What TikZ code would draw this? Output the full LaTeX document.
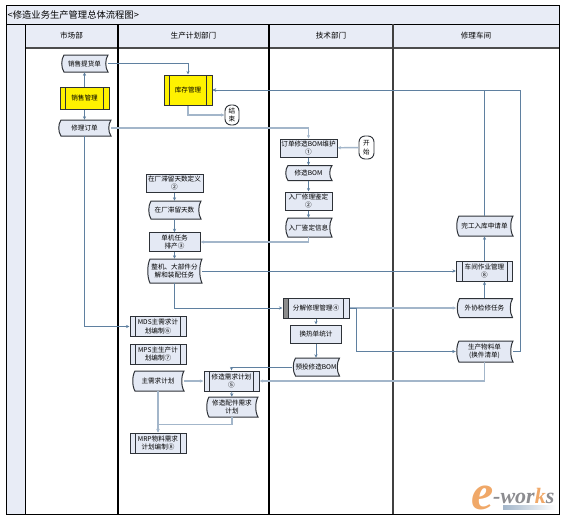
\documentclass[tikz,border=0pt]{standalone}
\usepackage{fontspec}
\setmainfont{Noto Sans CJK SC}
\newfontfamily\logofont{Liberation Serif}
\usetikzlibrary{arrows.meta}
\definecolor{bandfill}{HTML}{E8ECF6}
\definecolor{boxfill}{HTML}{E4E9F4}
\definecolor{boxline}{HTML}{2E3238}
\definecolor{flowthin}{HTML}{5F80A0}
\definecolor{flowpale}{HTML}{A3B6CA}
\definecolor{logoorange}{HTML}{F0A868}
\definecolor{logogray}{HTML}{8C8C90}
% the two bars of a process box
\newcommand{\procbars}{%
  \draw[boxline, line width=0.8pt] ([xshift=5.5pt]path picture bounding box.north west) -- ([xshift=5.5pt]path picture bounding box.south west);
  \draw[boxline, line width=0.8pt] ([xshift=-5.5pt]path picture bounding box.north east) -- ([xshift=-5.5pt]path picture bounding box.south east);}
\tikzset{
  boxtext/.style={font=\fontsize{6.6}{8.5}\selectfont, text=black, align=center, inner sep=0pt},
  lanehead/.style={font=\fontsize{7.6}{9}\selectfont, text=black, inner sep=0pt},
  stepbox/.style={boxtext, draw=boxline, line width=1pt, fill=boxfill, minimum width=#1},
  stepbox/.default=51pt,
  procbox/.style={boxtext, draw=boxline, line width=1pt, fill=boxfill, minimum width=56pt, minimum height=20pt,
    path picture={\procbars}},
  procdark/.style={procbox, minimum width=66pt,
    path picture={\fill[black!45] (path picture bounding box.north west) rectangle ([xshift=5.5pt]path picture bounding box.south west); \procbars}},
  endbox/.style={boxtext, draw=boxline, line width=0.9pt, fill=white, rounded corners=6pt, minimum width=14pt},
  docshape/.style={draw=boxline, line width=1pt, fill=boxfill},
  flow/.style={->, flowthin, line width=0.7pt},
  flowwide/.style={->, flowpale, line width=1.4pt},
}
% curved document box: outline first, then the named node on top
\newcommand{\docnode}[6]{%
  \path[docshape] ({#2-#4/2+3},{#3-#5/2}) -- ({#2+#4/2},{#3-#5/2})
    .. controls ({#2+#4/2-3},{#3-#5/4}) and ({#2+#4/2-3},{#3+#5/4}) .. ({#2+#4/2},{#3+#5/2})
    -- ({#2-#4/2+3},{#3+#5/2})
    .. controls ({#2-#4/2},{#3+#5/4}) and ({#2-#4/2},{#3-#5/4}) .. cycle;
  \node[boxtext, minimum width=#4pt, minimum height=#5pt] (#1) at (#2,#3) {#6};}
\begin{document}
\begin{tikzpicture}[x=1pt, y=-1pt, >={Stealth[length=3.6pt,width=3.2pt]}]
    \useasboundingbox (0,0) rectangle (567,520);

    % frame, title band and lanes
    \fill[bandfill] (6,5) rectangle (559,24);
    \fill[bandfill] (25,24) rectangle (559,48);
    \fill[bandfill] (6,24) rectangle (25,514);
    \draw[black!70, line width=2pt] (25,48) -- (559,48);
    \draw[black, line width=1pt] (6,24) -- (559,24);
    \draw[black, line width=1pt] (25,24) -- (25,514);
    \draw[black, line width=1.2pt] (118,24) -- (118,514);
    \draw[black, line width=1.2pt] (269,24) -- (269,514);
    \draw[black!75, line width=1.5pt] (393,24) -- (393,514);
    \draw[black, line width=1pt] (6,5) rectangle (559,514);

    \node[anchor=west, inner sep=0pt, font=\fontsize{9.3}{10}\selectfont, text=black] (title) at (7.5,14.5) {<修造业务生产管理总体流程图>};
    \node[lanehead] (lane1) at (71.5,36) {市场部};
    \node[lanehead] (lane2) at (193.5,36) {生产计划部门};
    \node[lanehead] (lane3) at (331,36) {技术部门};
    \node[lanehead] (lane4) at (476,36) {修理车间};

    % market lane
    \docnode{bill}{84.5}{63.5}{47}{17}{销售提货单}
    \node[procbox, fill=yellow, minimum width=49pt, minimum height=22pt] (sale) at (84.5,98) {销售管理};
    \docnode{order}{84.5}{128}{53}{16}{修理订单}

    % planning lane
    \node[procbox, fill=yellow, minimum width=48pt, minimum height=30pt] (stock) at (188,90) {库存管理};
    \node[endbox, minimum height=20pt] (finish) at (232,115) {结\\束};
    \node[stepbox=57pt, minimum height=18pt] (daydef) at (174.5,183) {在厂滞留天数定义\\②};
    \docnode{days}{174.5}{210}{53}{18}{在厂滞留天数}
    \node[stepbox, minimum height=18.5pt] (sched) at (174.5,242) {单机任务\\排产③};
    \docnode{whole}{174.5}{271}{55}{24}{整机、大部件分\\解和装配任务}
    \node[procbox] (mds) at (158,326.5) {MDS主需求计\\划编制⑥};
    \node[procbox] (mps) at (158,354) {MPS主生产计\\划编制⑦};
    \docnode{master}{158}{381}{52}{20}{主需求计划}
    \node[procbox, minimum width=55pt] (demand) at (231.5,381) {修造需求计划\\⑤};
    \docnode{parts}{232}{407}{52}{20}{修造配件需求\\计划}
    \node[procbox] (mrp) at (158,443) {MRP物料需求\\计划编制⑧};

    % technology lane
    \node[stepbox=57pt, minimum height=18pt] (bomkeep) at (308.5,148) {订单修造BOM维护\\①};
    \node[endbox, minimum height=23pt, minimum width=15pt] (start) at (366.5,147.5) {开\\始};
    \docnode{bom}{308.5}{173}{47}{15}{修造BOM}
    \node[stepbox=47pt, minimum height=18pt] (check) at (308.5,201) {入厂修理鉴定\\②};
    \docnode{info}{308.5}{227.5}{47}{19}{入厂鉴定信息}
    \node[procdark] (split) at (316,308) {分解修理管理④};
    \node[stepbox, minimum height=18pt] (swap) at (316,334) {换热单统计};
    \docnode{prebom}{316}{367}{47}{18}{预投修造BOM}

    % workshop lane
    \docnode{apply}{484.5}{226}{57}{20}{完工入库申请单}
    \node[procbox] (shop) at (484.5,271) {车间作业管理\\⑧};
    \docnode{outer}{484.5}{308}{56}{19}{外协检修任务}
    \docnode{matlist}{484.5}{351.5}{57}{21}{生产物料单\\(换件清单)}

    % connectors
    \draw[flow] (sale) -- (bill);
    \draw[flow] (sale) -- (order);
    \draw[flow] (bill.east) -| (stock.north);
    \draw[flow] (order.south) |- (mds.west);
    \draw[flowwide] (order.east) -| (bomkeep.north);
    \draw[flowwide] (stock.south) |- (finish.west);
    \draw[flow] (apply.north) |- (stock.east);
    \draw[flow] (matlist.east) -- ++(7,0) |- (stock.east);
    \draw[flowwide] (start) -- (bomkeep);
    \draw[flow] (bomkeep) -- (bom);
    \draw[flow] (bom) -- (check);
    \draw[flow] (check) -- (info);
    \draw[flowwide] (info.south) |- (sched.east);
    \draw[flow] (daydef) -- (days);
    \draw[flow] (days) -- (sched);
    \draw[flow] (sched) -- (whole);
    \draw[flow] (whole.east) -- (shop.west);
    \draw[flow] (whole.south) |- (split.west);
    \draw[flow] (split) -- (swap);
    \draw[flow] (swap) -- (prebom);
    \draw[flowwide] (split.east) -- (outer.west);
    \draw[flow] (split.east) -- ++(6.5,0) |- (matlist.west);
    \draw[flow] (outer) -- (shop);
    \draw[flow] (shop) -- (apply);
    \draw[flow] (prebom.west) -| (demand.north);
    \draw[flowwide] (matlist.south) |- (demand.east);
    \draw[flowwide] (master.east) -- (demand.west);
    \draw[flowwide] (master.south) -- (mrp.north);
    \draw[flow] (demand) -- (parts);
    \draw[flowwide] (parts.south) -- ++(0,7) -| (mrp.north);

    % logo
    \shade[left color=flowpale, right color=white] (503,505) rectangle (556,509);
    \node[anchor=base west, inner sep=0pt, text=logoorange, font=\logofont\bfseries\itshape\fontsize{50}{50}\selectfont] (logoe) at (471,509) {e};
    \node[anchor=base west, inner sep=0pt, text=logogray, font=\logofont\bfseries\itshape\fontsize{22}{22}\selectfont] (logotext) at (493,503) {-wor\textcolor{logoorange}{k}s};
\end{tikzpicture}
\end{document}
